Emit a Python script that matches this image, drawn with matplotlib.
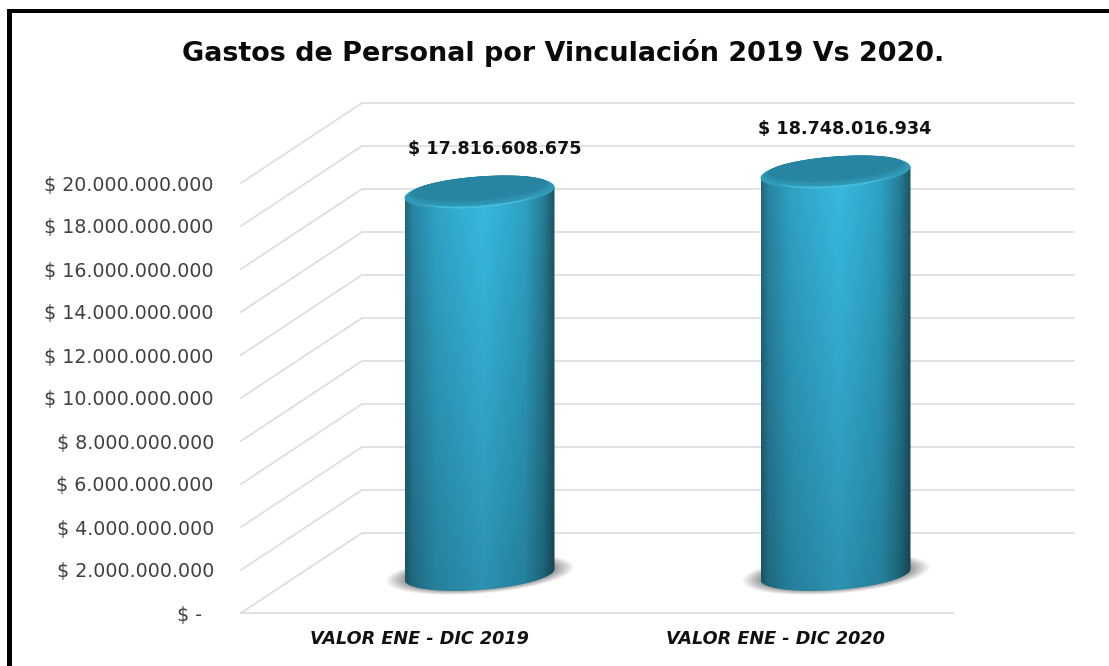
import matplotlib
matplotlib.use("Agg")
import matplotlib.pyplot as plt
import numpy as np
from matplotlib.patches import Polygon, Rectangle

categories = ["VALOR ENE - DIC 2019", "VALOR ENE - DIC 2020"]
values = [17816608675, 18748016934]
value_labels = ["$ 17.816.608.675", "$ 18.748.016.934"]
tick_values = [0, 2e9, 4e9, 6e9, 8e9, 10e9, 12e9, 14e9, 16e9, 18e9, 20e9]
tick_labels = ["$ -  ", "$ 2.000.000.000", "$ 4.000.000.000", "$ 6.000.000.000",
               "$ 8.000.000.000", "$ 10.000.000.000", "$ 12.000.000.000",
               "$ 14.000.000.000", "$ 16.000.000.000", "$ 18.000.000.000",
               "$ 20.000.000.000"]

W, H = 1109, 666
fig = plt.figure(figsize=(W / 100, H / 100), dpi=100)
ax = fig.add_axes([241 / W, 1 - 613 / H, 712 / W, 430 / H])
ax.set_xlim(0, 2)
ax.set_ylim(0, 20e9)
ax.patch.set_visible(False)
for s in ax.spines.values():
    s.set_visible(False)

# data units per pixel
PX = 2 / 712
PY = 20e9 / 430
DEPTH_X = 121 * PX
DEPTH_Y = 80 * PY

# gridlines on the slanted floor/wall
for v in tick_values:
    ax.plot([0, DEPTH_X, 2 + DEPTH_X], [v, v + DEPTH_Y, v + DEPTH_Y],
            color="#dedede", lw=1.3, clip_on=False, zorder=1)
ax.plot([0, 2], [0, 0], color="#dedede", lw=1.3, clip_on=False, zorder=1)


def ellipse(cx, cy, a, b, n=120):
    t = np.linspace(0, 2 * np.pi, n)
    x = a * np.cos(t)
    y = b * np.sin(t) + 0.073 * x
    return cx + x * PX, cy + y * PY


def draw_cylinder(center, value):
    cx = center + 60.5 * PX
    y0 = 38.5 * PY
    y1 = value + y0 - 1 * PY
    a, b = 75, 15.5

    # soft shadow under the base
    sx = np.linspace(-1.2, 1.2, 300)
    sy = np.linspace(-1.2, 1.2, 100)
    gx, gy = np.meshgrid(sx, sy)
    r = np.sqrt(gx ** 2 + (gy - 0.073 * gx * 92 / 19) ** 2)
    shadow = np.zeros((100, 300, 4))
    shadow[..., :3] = 0.35
    shadow[..., 3] = np.clip((1 - r) / 0.35, 0, 1)
    im = ax.imshow(shadow, extent=[cx - 1.2 * 95 * PX, cx + 1.2 * 95 * PX,
                                   y0 - 1.2 * 20 * PY, y0 + 1.2 * 20 * PY],
                   origin="lower", aspect="auto", zorder=2)
    im.set_clip_box(fig.bbox)

    # body: top half of the silhouette follows the top ellipse, bottom the base
    t = np.linspace(np.pi, 2 * np.pi, 80)
    bx = a * np.cos(t)
    by = b * np.sin(t) + 0.073 * bx
    tx = a * np.cos(t[::-1])
    ty = 0.073 * tx
    px = np.concatenate([cx + bx * PX, cx + tx * PX])
    py = np.concatenate([y0 + by * PY, y1 + ty * PY])
    body = Polygon(np.column_stack([px, py]), closed=True, facecolor="none",
                   edgecolor="none", transform=ax.transData, clip_on=False)
    ax.add_patch(body)

    stops = [0, 0.05, 0.2, 0.52, 0.8, 0.93, 1]
    red = [35, 42, 48, 57, 46, 38, 28]
    green = [105, 135, 165, 188, 165, 125, 85]
    blue = [128, 165, 200, 230, 200, 150, 102]
    xs = np.linspace(0, 1, 200)
    row = np.column_stack([np.interp(xs, stops, red), np.interp(xs, stops, green),
                           np.interp(xs, stops, blue)]) / 255
    shade = np.linspace(0.77, 1.0, 200)[:, None, None]
    grad = np.clip(row[None, :, :] * shade, 0, 1)
    im = ax.imshow(grad, extent=[cx - a * PX, cx + a * PX, y0 - 25 * PY, y1 + 25 * PY],
                   origin="lower", aspect="auto", zorder=3, interpolation="bilinear")
    im.set_clip_box(fig.bbox)
    im.set_clip_path(body)

    # top face: thin highlight, then a rim fading into the dark face
    ex, ey = ellipse(cx, y1, a, b)
    ax.fill(ex, ey, color="#2f9dbc", lw=0, clip_on=False, zorder=4)
    ex, ey = ellipse(cx, y1 - 0.3 * PY, a - 10, b - 0.2)
    ax.fill(ex, ey, color="#45bcdc", lw=0, clip_on=False, zorder=4)
    rim = ["#3099b8", "#2e94b2", "#2c8fac", "#2a8aa6", "#2885a1"]
    for k, col in enumerate(rim):
        f = (k + 1) / len(rim)
        ex, ey = ellipse(cx, y1 + (0.4 + 4.1 * f) * PY, a - 0.5 - 7.5 * f, b - 0.4 - 3.6 * f)
        ax.fill(ex, ey, color=col, lw=0, clip_on=False, zorder=4)
    return cx, y1


label_x = [15, 9]
for i, (v, lab) in enumerate(zip(values, value_labels)):
    cx, top = draw_cylinder(i + 0.5, v)
    ax.text(cx + label_x[i] * PX, v + 80.5 * PY, lab, ha="center", va="center",
            fontsize=12.7, fontweight="bold", family="DejaVu Sans", color="#111111",
            zorder=6, clip_on=False)

ax.set_xlim(0, 2)
ax.set_ylim(0, 20e9)
ax.set_yticks(tick_values)
ax.set_yticklabels(tick_labels, fontsize=13.7, family="DejaVu Sans", color="#404040")
ax.set_xticks([0.5, 1.5])
ax.set_xticklabels(categories, fontsize=12.7, fontweight="bold", style="italic",
                   family="DejaVu Sans", color="#111111")
ax.tick_params(axis="y", length=0, pad=19.5)
ax.tick_params(axis="x", length=0, pad=12)

fig.text(563.5 / W, 1 - 53 / H, "Gastos de Personal por Vinculación 2019 Vs 2020.",
         ha="center", va="center", fontsize=19.45, fontweight="bold",
         family="DejaVu Sans", color="#0a0a0a")

# black frame, only top and left are inside the picture
fig.add_artist(Rectangle((7 / W, 0), 5 / W, 1 - 9 / H, transform=fig.transFigure,
                         facecolor="black", edgecolor="none"))
fig.add_artist(Rectangle((7 / W, 1 - 13 / H), 1 - 7 / W, 4 / H, transform=fig.transFigure,
                         facecolor="black", edgecolor="none"))

fig.savefig("out.png", dpi=100, facecolor="white")
